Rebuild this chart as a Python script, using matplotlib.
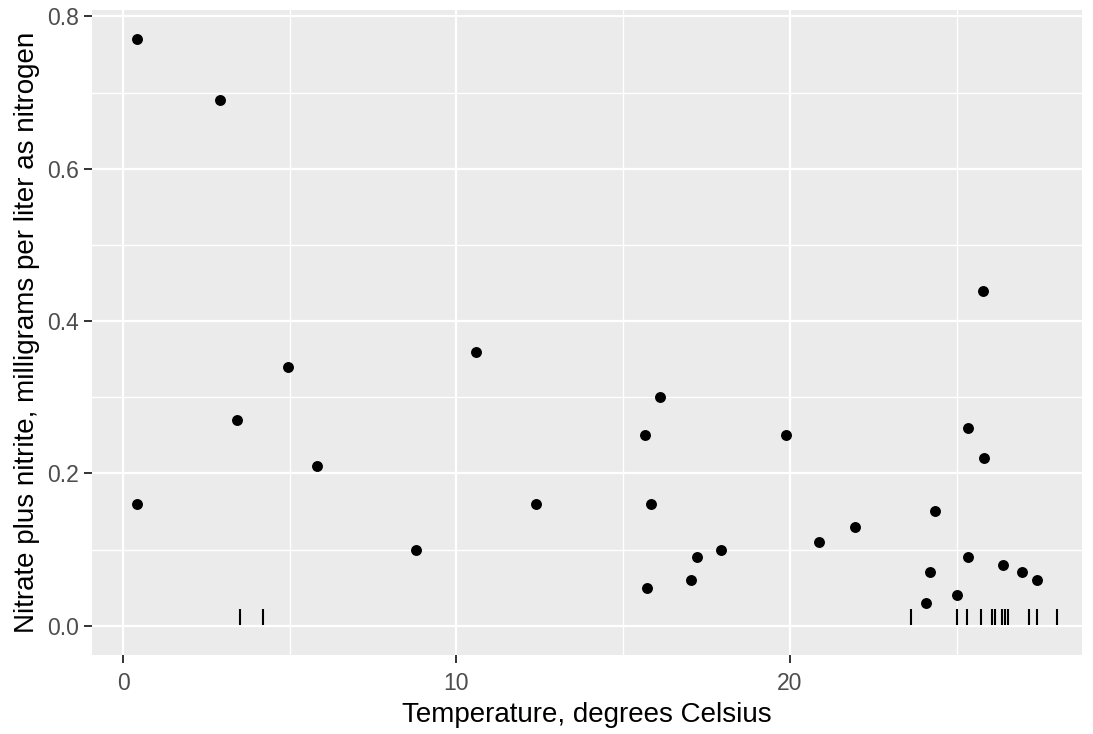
import matplotlib
matplotlib.use("Agg")
from matplotlib import pyplot as plt
from matplotlib.ticker import MultipleLocator, FormatStrFormatter

# measured points (temperature, nitrate plus nitrite)
temp = [0.42, 0.42, 2.92, 3.43, 4.96, 5.83, 8.78, 10.58, 12.38, 15.66,
        15.72, 15.84, 16.11, 17.04, 17.22, 17.94, 19.87, 20.86, 21.94, 24.08,
        24.2, 24.35, 25.01, 25.34, 25.34, 25.79, 25.82, 26.39, 26.96, 27.41]
nitrate = [0.77, 0.16, 0.69, 0.27, 0.34, 0.21, 0.10, 0.36, 0.16, 0.25,
           0.05, 0.16, 0.30, 0.06, 0.09, 0.10, 0.25, 0.11, 0.13, 0.03,
           0.07, 0.15, 0.04, 0.09, 0.26, 0.44, 0.22, 0.08, 0.07, 0.06]

# rug marks along the bottom
rug_temp = [3.52, 4.21, 23.62, 25.02, 25.32, 25.72, 26.05, 26.15, 26.37,
            26.45, 26.55, 27.17, 27.41, 28.0]

plt.rcParams['font.family'] = ['Liberation Sans', 'DejaVu Sans']

fig = plt.figure(figsize=(10.93, 7.34), dpi=100)
ax = fig.add_axes([92 / 1093, 79 / 734, 990 / 1093, 645 / 734])
ax.set_facecolor('#EBEBEB')

ax.xaxis.set_major_locator(MultipleLocator(10))
ax.xaxis.set_minor_locator(MultipleLocator(5))
ax.yaxis.set_major_locator(MultipleLocator(0.2))
ax.yaxis.set_minor_locator(MultipleLocator(0.1))
ax.grid(which='major', color='white', linewidth=1.6)
ax.grid(which='minor', color='white', linewidth=1.0)
ax.set_axisbelow(True)
for s in ax.spines.values():
    s.set_visible(False)

ax.scatter(temp, nitrate, s=62, color='black', zorder=3, linewidths=0)
ax.plot(rug_temp, [0.011] * len(rug_temp), linestyle='none', marker='|',
        markersize=11.5, markeredgewidth=1.5, color='black', zorder=3)

ax.set_xlim(-0.93, 28.76)
ax.set_ylim(-0.0385, 0.8085)
ax.yaxis.set_major_formatter(FormatStrFormatter('%.1f'))

ax.tick_params(which='major', length=5.5, width=1.4, color='#333333',
               labelcolor='#4D4D4D', labelsize=16.5)
ax.tick_params(which='minor', length=0)
ax.tick_params(axis='x', pad=7)
ax.tick_params(axis='y', pad=4)

ax.set_xlabel('Temperature, degrees Celsius', fontsize=20, color='black', labelpad=5)
ax.set_ylabel('Nitrate plus nitrite, milligrams per liter as nitrogen', fontsize=20,
              color='black', labelpad=5)

fig.savefig('out.png', dpi=100)
